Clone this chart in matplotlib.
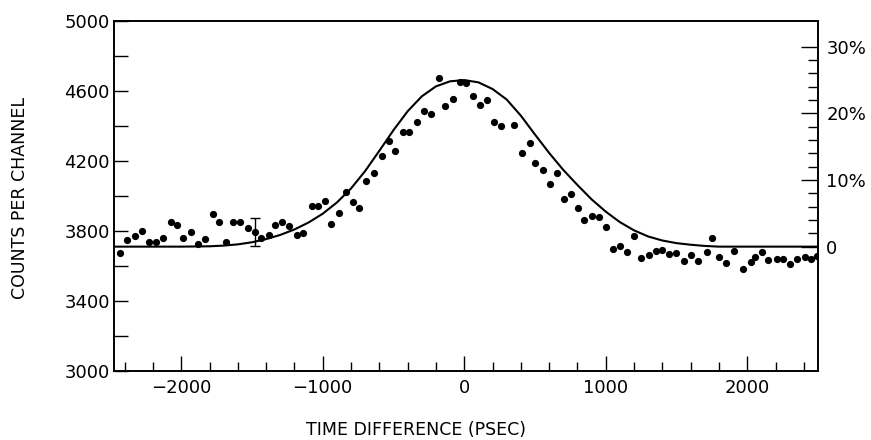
import matplotlib
matplotlib.use('Agg')
import matplotlib.pyplot as plt
from matplotlib.ticker import MultipleLocator, NullFormatter

plt.rcParams['font.family'] = ['DejaVu Sans']

# measured points
time_ps = [-2431, -2384, -2330, -2276, -2231, -2179, -2132, -2075, -2028, -1984,
           -1932, -1882, -1830, -1778, -1731, -1680, -1633, -1583, -1531, -1482,
           -1437, -1383, -1338, -1289, -1235, -1183, -1136, -1079, -1032, -982,
           -940, -888, -839, -789, -742, -694, -638, -582, -535, -488,
           -433, -393, -334, -287, -235, -181, -139, -82, -33, 10,
           60, 111, 160, 212, 261, 353, 405, 462, 502, 556,
           608, 655, 702, 756, 801, 846, 904, 951, 1001, 1053,
           1101, 1151, 1199, 1250, 1305, 1352, 1399, 1450, 1500, 1553,
           1602, 1653, 1718, 1750, 1803, 1852, 1907, 1969, 2024, 2056,
           2103, 2150, 2209, 2256, 2303, 2350, 2407, 2449, 2494]
counts = [3671, 3747, 3770, 3802, 3737, 3737, 3757, 3850, 3833, 3760,
          3794, 3726, 3751, 3894, 3851, 3735, 3851, 3853, 3814, 3791,
          3760, 3775, 3833, 3848, 3827, 3775, 3789, 3943, 3943, 3971,
          3842, 3901, 4021, 3966, 3928, 4086, 4128, 4229, 4313, 4255,
          4366, 4366, 4419, 4484, 4469, 4674, 4514, 4551, 4648, 4642,
          4570, 4517, 4545, 4419, 4397, 4402, 4246, 4301, 4187, 4145,
          4065, 4131, 3983, 4008, 3928, 3863, 3886, 3882, 3824, 3699,
          3716, 3680, 3770, 3646, 3662, 3684, 3692, 3668, 3672, 3630,
          3664, 3629, 3680, 3757, 3649, 3614, 3686, 3585, 3623, 3650,
          3678, 3634, 3640, 3638, 3611, 3638, 3651, 3638, 3657]

# representative error bar
err_t = -1482
err_c = 3791
err_lo = 77
err_hi = 80

# fitted curve
curve_t = [-2475, -2000, -1800, -1700, -1600, -1500, -1400, -1300, -1200, -1100,
           -1000, -900, -800, -700, -600, -500, -400, -300, -200, -100,
           0, 100, 200, 300, 400, 500, 600, 700, 800, 900,
           1000, 1100, 1200, 1300, 1400, 1500, 1600, 1700, 1800, 2500]
curve_c = [3710, 3710, 3712, 3716, 3723, 3735, 3753, 3777, 3808, 3848,
           3898, 3962, 4042, 4142, 4257, 4375, 4483, 4568, 4625, 4654,
           4661, 4648, 4610, 4550, 4458, 4350, 4245, 4148, 4062, 3980,
           3910, 3850, 3803, 3768, 3745, 3730, 3721, 3714, 3710, 3710]

left_ticks = [3000, 3400, 3800, 4200, 4600, 5000]

# right-hand percent scale
pct_ticks = [0, 10, 20, 30]
pct_labels = ['0', '10%', '20%', '30%']
pct_base = 3709
counts_per_pct = 38.1

fig = plt.figure(figsize=(8.71, 4.4), dpi=100)
ax = fig.add_axes([114/871, 1-371/440, 704/871, 350.3/440])

ax.plot(curve_t, curve_c, color='black', lw=1.5)
ax.plot(time_ps, counts, 'o', color='black', ms=5.2, mec='none')
ax.errorbar([err_t], [err_c], yerr=[[err_lo], [err_hi]], fmt='none',
            ecolor='black', elinewidth=1.0, capsize=3.5, capthick=1.0)

ax.set_xlim(-2475, 2500)
ax.set_ylim(3000, 5000)

for s in ax.spines.values():
    s.set_linewidth(1.2)

ax.xaxis.set_major_locator(MultipleLocator(1000))
ax.xaxis.set_minor_locator(MultipleLocator(200))
ax.set_yticks(left_ticks)
ax.yaxis.set_minor_locator(MultipleLocator(200))
ax.tick_params(axis='x', which='both', direction='in', top=False, width=1.0,
               labelsize=13, pad=6)
ax.tick_params(axis='x', which='major', length=11)
ax.tick_params(axis='x', which='minor', length=6.5)
ax.tick_params(axis='y', which='both', direction='in', right=False, width=1.0,
               length=10, labelsize=13, pad=3)

ax2 = ax.twinx()
ax2.set_ylim(3000, 5000)
ax2.set_yticks([pct_base + p * counts_per_pct for p in pct_ticks])
ax2.set_yticklabels(pct_labels)
ax2.set_yticks([pct_base + p * counts_per_pct for p in range(0, 31, 2)], minor=True)
ax2.yaxis.set_minor_formatter(NullFormatter())
ax2.tick_params(axis='y', which='both', direction='in', width=1.0,
                labelsize=13, pad=6)
ax2.tick_params(axis='y', which='major', length=12)
ax2.tick_params(axis='y', which='minor', length=7)
for s in ax2.spines.values():
    s.set_linewidth(1.2)

fig.text(416/871, 1-430/440, 'TIME DIFFERENCE (PSEC)', ha='center', va='center',
         fontsize=12.5)
fig.text(20/871, 1-198/440, 'COUNTS PER CHANNEL', ha='center', va='center',
         rotation=90, fontsize=12.5)

fig.savefig('out.png', dpi=100)
